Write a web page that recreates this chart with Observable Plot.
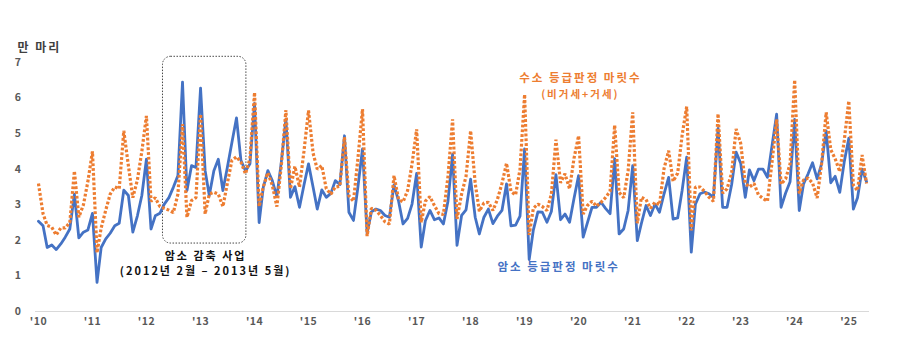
<!DOCTYPE html>
<html><head><meta charset="utf-8">
<script src="https://cdn.jsdelivr.net/npm/d3@7"></script>
<script src="https://cdn.jsdelivr.net/npm/@observablehq/plot@0.6"></script>
<style>
html,body{margin:0;padding:0;background:#fff;}
#chart{width:901px;height:351px;overflow:hidden;}
</style></head><body><div id="chart"></div>
<script>
// monthly values from Jan 2010 (unit: 만 마리)
const startYear = 2010;
const cowCount = [
 2.54,2.41,1.8,1.87,1.74,1.9,2.09,2.32,3.3,2.07,2.23,2.29,
 2.76,0.82,1.8,2.04,2.2,2.41,2.48,3.41,3.26,2.23,2.69,3.26,
 4.28,2.32,2.69,2.76,3.02,3.2,3.49,3.82,6.45,3.4,4.1,4.05,
 6.28,3.96,3.26,3.96,4.28,3.4,4.05,4.75,5.44,4.25,3.95,4.15,
 5.85,2.5,3.49,3.96,3.68,3.23,4.2,5.4,3.21,3.51,2.93,3.55,
 4.15,3.49,2.88,3.42,3.21,3.32,3.68,3.57,4.94,2.79,2.56,3.5,
 4.57,2.2,2.8,2.88,2.84,2.7,2.65,3.56,3.1,2.46,2.62,3.02,
 3.88,1.81,2.55,2.84,2.58,2.63,2.46,3.1,4.42,1.86,2.7,2.86,
 3.72,2.65,2.18,2.65,2.88,2.47,2.68,2.84,3.59,2.41,2.43,2.68,
 4.57,1.46,2.29,2.8,2.79,2.51,2.81,3.85,2.58,2.74,2.51,3.18,
 3.82,2.09,2.5,2.93,2.93,3.07,2.9,2.75,4.3,2.18,2.32,2.84,
 4.1,1.99,2.48,2.98,2.7,3.02,2.79,3.31,3.77,2.6,2.63,3.4,
 4.34,1.67,3.02,3.31,3.36,3.31,3.21,5.15,2.93,2.93,3.57,4.48,
 4.17,3.21,3.98,3.68,4.0,4.0,3.77,4.66,5.55,2.93,3.33,3.65,
 5.4,2.84,3.59,3.87,4.18,3.73,4.15,5.08,3.62,3.8,3.35,4.2,
 4.87,2.88,3.2,4.0,3.65
];
const bullCount = [
 3.6,2.75,2.42,2.37,2.15,2.35,2.35,2.5,3.95,2.65,3.0,3.65,
 4.5,1.65,2.35,2.85,3.3,3.5,3.45,5.08,4.1,3.2,3.7,4.5,
 5.5,3.1,3.2,2.95,2.9,2.85,2.78,3.3,5.27,2.65,3.12,3.2,
 5.55,2.74,3.3,3.35,3.3,2.95,3.6,4.25,4.35,4.2,3.87,4.3,
 6.16,2.95,3.5,3.9,3.55,2.95,4.1,5.66,3.45,4.08,3.5,4.5,
 5.65,4.45,4.0,4.1,3.45,3.3,3.5,3.52,4.9,3.25,3.1,4.3,
 5.69,2.12,2.9,2.85,2.7,2.52,2.46,3.82,3.15,3.08,3.4,4.15,
 5.12,2.5,3.1,3.23,2.98,2.75,2.73,3.8,5.4,2.6,3.3,3.8,
 5.08,3.6,2.82,3.05,3.07,2.84,3.15,3.6,4.17,3.37,3.28,4.0,
 6.1,2.15,2.9,3.02,2.95,2.84,3.3,4.83,3.62,3.87,3.45,4.3,
 4.94,2.74,2.98,3.1,2.96,3.07,3.2,3.38,5.24,3.35,3.2,3.96,
 5.6,2.48,3.21,3.15,2.9,3.07,3.0,4.02,4.52,3.66,3.89,4.95,
 5.76,2.28,3.5,3.5,3.38,3.21,3.1,5.56,3.33,3.45,3.9,5.13,
 4.73,3.6,3.5,3.6,3.28,3.18,3.1,4.2,5.4,3.58,3.73,4.15,
 6.51,3.32,3.7,3.75,3.61,3.19,4.15,5.6,4.55,4.29,3.93,4.8,
 5.92,3.55,3.4,4.4,3.6
];
const yearTicks = d3.range(2010, 2026);
const yTicks = [0,1,2,3,4,5,6,7];
const unitLabel = "만 마리";
const cowLabel = "암소 등급판정 마릿수";
const bullLabel = ["수소 등급판정 마릿수", "(비거세+거세)"];
const programLabel = ["암소 감축 사업", "(2012년 2월 – 2013년 5월)"];

const utc = (y, m, d = 1) => new Date(Date.UTC(y, m, d));
const monthPos = i => utc(startYear, Math.floor(i), 1 + Math.round((i % 1) * 30));
const rows = cowCount.map((v, i) => ({date: utc(startYear, i), cow: v, bull: bullCount[i]}));

const blue = "#4472C4", orange = "#ED7D31";
const font = "'Noto Sans CJK KR', 'Noto Sans', sans-serif";

const box = [{x1: monthPos(27.7), x2: monthPos(46.2), y1: 1.91, y2: 7.16}];

const chart = Plot.plot({
  width: 901, height: 351,
  marginLeft: 35, marginRight: 32, marginTop: 62, marginBottom: 40,
  style: {fontFamily: font, background: "#fff", overflow: "visible"},
  x: {type: "utc", domain: [utc(2009, 11, 12), utc(2025, 4, 21)]},
  y: {domain: [0, 7]},
  marks: [
    Plot.ruleY([0], {stroke: "#d9d9d9", strokeWidth: 1}),
    Plot.axisX({ticks: yearTicks.map(y => utc(y, 0)), tickFormat: d => "'" + String(d.getUTCFullYear()).slice(2),
      tickSize: 0, tickPadding: 6, fontWeight: "bold", fontSize: 10.5, color: "#595959", label: null}),
    Plot.axisY({ticks: yTicks, tickFormat: d => String(d), tickSize: 0, tickPadding: 14, fontWeight: "bold", fontSize: 10.5, color: "#595959", label: null}),
    Plot.rect(box, {x1: "x1", x2: "x2", y1: "y1", y2: "y2", rx: 8, fill: "none", stroke: "#333", strokeWidth: 0.9, strokeDasharray: "1.5,1.5"}),
    Plot.line(rows, {x: "date", y: "cow", stroke: blue, strokeWidth: 2.8, strokeLinejoin: "round"}),
    Plot.line(rows, {x: "date", y: "bull", stroke: orange, strokeWidth: 3.2, strokeLinecap: "butt", strokeLinejoin: "miter", strokeDasharray: "2.8,2"}),
    Plot.text([unitLabel], {frameAnchor: "top-left", dx: -18, dy: -19, textAnchor: "start", fontWeight: "bold", fontSize: 12, fill: "#404040"}),
    Plot.text([programLabel[0]], {x: () => monthPos(37.1), y: () => 1.56, fontWeight: "bold", fontSize: 11, fill: "#111"}),
    Plot.text([programLabel[1]], {x: () => monthPos(37.1), y: () => 1.12, fontWeight: "bold", fontSize: 11, fill: "#111"}),
    Plot.text([bullLabel[0]], {x: () => monthPos(120.4), y: () => 6.56, fontWeight: "bold", fontSize: 11.5, fill: orange}),
    Plot.text([bullLabel[1]], {x: () => monthPos(120.4), y: () => 6.1, fontWeight: "bold", fontSize: 10.5, fill: orange}),
    Plot.text([cowLabel], {x: () => monthPos(115.6), y: () => 1.24, fontWeight: "bold", fontSize: 11.5, fill: blue})
  ]
});
d3.select(chart).selectAll('g[aria-label="text"] text').style("letter-spacing", "2px");
d3.select(chart).selectAll('g[aria-label$="tick label"] text').style("letter-spacing", "0.5px");
document.getElementById("chart").appendChild(chart);
</script></body></html>
